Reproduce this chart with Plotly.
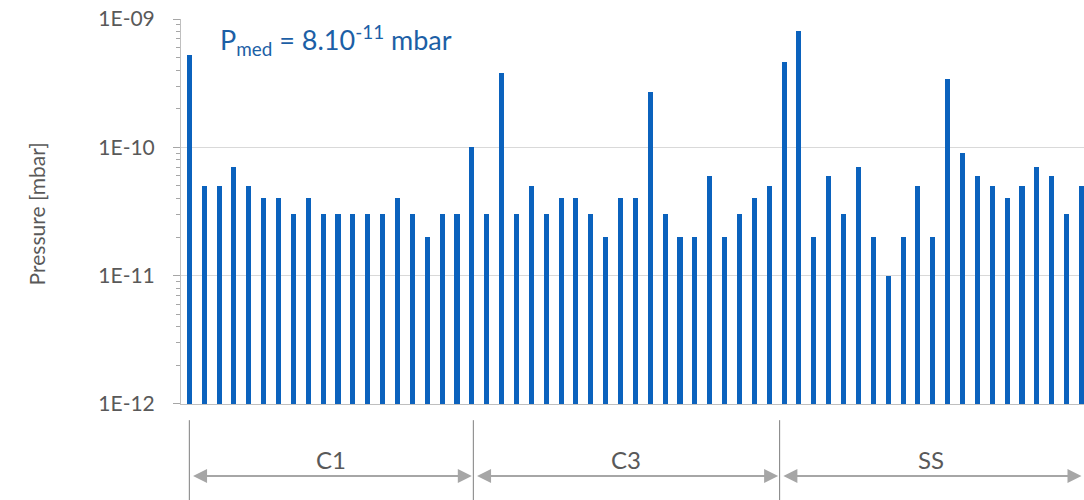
import plotly.graph_objects as go

# Pressure readings (mbar), one per measurement point, left to right
pressures = [
    5.2e-10, 5e-11, 5e-11, 7e-11, 5e-11, 4e-11, 4e-11, 3e-11, 4e-11, 3e-11,
    3e-11, 3e-11, 3e-11, 3e-11, 4e-11, 3e-11, 2e-11, 3e-11, 3e-11, 1e-10,
    3e-11, 3.8e-10, 3e-11, 5e-11, 3e-11, 4e-11, 4e-11, 3e-11, 2e-11, 4e-11,
    4e-11, 2.7e-10, 3e-11, 2e-11, 2e-11, 6e-11, 2e-11, 3e-11, 4e-11, 5e-11,
    4.6e-10, 8.1e-10, 2e-11, 6e-11, 3e-11, 7e-11, 2e-11, 1e-11, 2e-11, 5e-11,
    2e-11, 3.4e-10, 9e-11, 6e-11, 5e-11, 4e-11, 5e-11, 7e-11, 6e-11, 3e-11,
    5e-11,
]
positions = list(range(len(pressures)))

# Section labels and boundaries (in measurement-index units)
groups = ["C1", "C3", "SS"]
boundaries = [0, 19.1, 39.7, 60.1]

tick_vals = [1e-12, 1e-11, 1e-10, 1e-9]
tick_text = ["1E-12", "1E-11", "1E-10", "1E-09"]

BAR = "#0b62bd"
GRAY_TXT = "#595959"
AX = "#bfbfbf"
FONT = "Lato"

fig = go.Figure()
fig.add_trace(go.Bar(x=positions, y=pressures, width=0.34,
                     marker=dict(color=BAR, line=dict(width=0))))

shapes = []
annotations = []
# vertical dividers below the axis
for b in boundaries[:-1]:
    shapes.append(dict(type="line", xref="x", yref="paper", x0=b, x1=b,
                       y0=-0.042, y1=-0.26, line=dict(color="#7f7f7f", width=1)))
# double-headed arrows and labels
for i, g in enumerate(groups):
    a, b = boundaries[i], boundaries[i + 1]
    annotations.append(dict(xref="x", yref="paper", x=b - 0.1, y=-0.187,
                            axref="x", ayref="pixel", ax=a + 0.15, ay=0,
                            text="", showarrow=True, arrowside="end+start",
                            arrowhead=2, startarrowhead=2, arrowsize=1.4,
                            startarrowsize=1.4, arrowwidth=2,
                            arrowcolor="#a6a6a6"))
    annotations.append(dict(xref="x", yref="paper", x=(a + b) / 2, y=-0.145,
                            yanchor="middle", text=g, showarrow=False,
                            font=dict(family=FONT, size=24, color=GRAY_TXT)))

annotations.append(dict(xref="paper", yref="paper", x=-0.176, y=0.494,
                        text="Pressure [mbar]", textangle=-90, showarrow=False,
                        font=dict(family=FONT, size=21, color=GRAY_TXT)))
annotations.append(dict(xref="paper", yref="paper", x=0.041, y=0.945,
                        xanchor="left", yanchor="middle",
                        text="P<sub>med</sub> = 8.10<sup>-11</sup> mbar",
                        showarrow=False,
                        font=dict(family=FONT, size=27, color="#1c5fa6")))

fig.update_layout(
    width=1084, height=500,
    margin=dict(l=181, r=0, t=19, b=96),
    paper_bgcolor="white", plot_bgcolor="white",
    showlegend=False, bargap=0, hovermode=False,
    shapes=shapes, annotations=annotations,
    xaxis=dict(range=[-0.56, 60.17], showticklabels=False, ticks="",
               showgrid=False, zeroline=False, showline=True,
               linecolor=AX, linewidth=1),
    yaxis=dict(type="log", range=[-12.0001, -8.9999], tickvals=tick_vals,
               ticktext=tick_text, showgrid=True, gridcolor="#d9d9d9",
               gridwidth=1, showline=True, linecolor=AX, linewidth=1,
               ticks="outside", ticklen=7, tickcolor="#a6a6a6",
               ticklabelstandoff=14, ticklabeloverflow="allow",
               tickfont=dict(family=FONT, size=21, color=GRAY_TXT),
               minor=dict(ticks="outside", ticklen=4, tickcolor="#a6a6a6",
                          dtick="D1", showgrid=False)),
)

fig.write_html(
    "out.html",
    config={"displayModeBar": False},
    post_script="document.body.style.margin='0';document.body.style.overflow='hidden';",
)
